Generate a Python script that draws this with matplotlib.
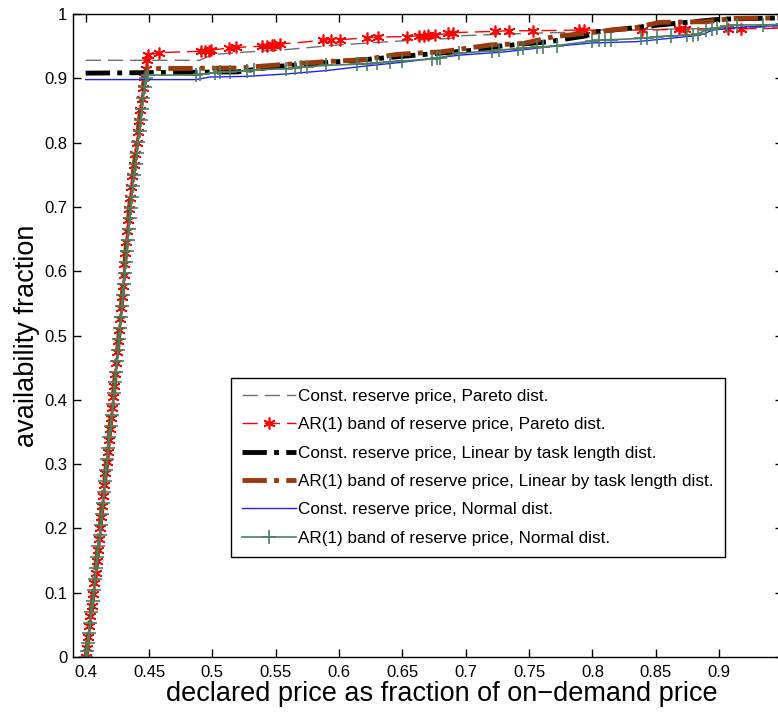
import matplotlib
matplotlib.use("Agg")
import matplotlib.pyplot as plt

plt.rcParams['font.family'] = ['Liberation Sans', 'DejaVu Sans']

# Const. reserve price, Pareto dist.
gray_x = [0.400, 0.490, 0.500, 0.520, 0.560, 0.600, 0.640, 0.665, 0.688, 0.694, 0.720,
          0.750, 0.790, 0.800, 0.880, 0.950]
gray_y = [0.928, 0.928, 0.937, 0.940, 0.945, 0.952, 0.957, 0.960, 0.962, 0.966, 0.968,
          0.970, 0.972, 0.975, 0.977, 0.980]

# AR(1) band of reserve price, Pareto dist.
red_x = [0.4000, 0.4009, 0.4019, 0.4029, 0.4038, 0.4048, 0.4059, 0.4069, 0.4078, 0.4088,
         0.4097, 0.4106, 0.4113, 0.4122, 0.4131, 0.4139, 0.4147, 0.4156, 0.4165, 0.4173,
         0.4182, 0.4190, 0.4199, 0.4207, 0.4216, 0.4225, 0.4233, 0.4241, 0.4249, 0.4258,
         0.4265, 0.4273, 0.4280, 0.4287, 0.4294, 0.4300, 0.4306, 0.4313, 0.4320, 0.4328,
         0.4336, 0.4343, 0.4350, 0.4359, 0.4369, 0.4379, 0.4390, 0.4402, 0.4412, 0.4421,
         0.4431, 0.4441, 0.4451, 0.4460, 0.4478, 0.4487, 0.4492,
         0.458, 0.491, 0.494, 0.497, 0.499, 0.513, 0.519, 0.539, 0.543, 0.547,
         0.549, 0.553, 0.587, 0.594, 0.601, 0.622, 0.631, 0.654, 0.663, 0.667,
         0.670, 0.676, 0.686, 0.690, 0.723, 0.734, 0.753, 0.789, 0.793, 0.839,
         0.868, 0.873, 0.907, 0.917, 0.950]
red_y = [0.000, 0.014, 0.031, 0.048, 0.063, 0.080, 0.098, 0.115, 0.131, 0.149,
         0.166, 0.183, 0.200, 0.218, 0.235, 0.251, 0.268, 0.286, 0.303, 0.319,
         0.337, 0.354, 0.371, 0.388, 0.405, 0.422, 0.440, 0.457, 0.474, 0.491,
         0.508, 0.526, 0.543, 0.560, 0.577, 0.594, 0.611, 0.628, 0.645, 0.662,
         0.680, 0.697, 0.714, 0.731, 0.748, 0.765, 0.782, 0.800, 0.817, 0.834,
         0.851, 0.868, 0.885, 0.902, 0.915, 0.928, 0.936,
         0.940, 0.942, 0.943, 0.943, 0.944, 0.947, 0.948, 0.950, 0.951, 0.952,
         0.952, 0.953, 0.959, 0.960, 0.960, 0.963, 0.964, 0.965, 0.966, 0.966,
         0.967, 0.967, 0.970, 0.971, 0.973, 0.974, 0.974, 0.975, 0.975, 0.975,
         0.976, 0.977, 0.977, 0.977, 0.978]

# Const. reserve price, Linear by task length dist.
black_x = [0.400, 0.520, 0.548, 0.600, 0.620, 0.661, 0.714, 0.727, 0.766, 0.782,
           0.795, 0.802, 0.853, 0.901, 0.950]
black_y = [0.908, 0.910, 0.918, 0.926, 0.929, 0.936, 0.945, 0.950, 0.957, 0.962,
           0.966, 0.972, 0.983, 0.992, 0.994]

# AR(1) band of reserve price, Linear by task length dist.
brown_x = [0.4003, 0.4060, 0.4113, 0.4164, 0.4215, 0.4263, 0.4304, 0.4346, 0.4403,
           0.4463, 0.4490, 0.520, 0.553, 0.590, 0.620, 0.645, 0.660, 0.680, 0.720,
           0.745, 0.770, 0.795, 0.819, 0.830, 0.853, 0.890, 0.910, 0.950]
brown_y = [0.000, 0.100, 0.200, 0.300, 0.400, 0.500, 0.600, 0.700, 0.800,
           0.900, 0.915, 0.916, 0.921, 0.926, 0.929, 0.937, 0.939, 0.941, 0.952,
           0.954, 0.965, 0.970, 0.976, 0.977, 0.987, 0.988, 0.993, 0.994]

# Const. reserve price, Normal dist.
blue_x = [0.400, 0.487, 0.498, 0.527, 0.560, 0.590, 0.616, 0.650, 0.695, 0.730,
          0.766, 0.800, 0.835, 0.860, 0.885, 0.895, 0.922, 0.950]
blue_y = [0.898, 0.898, 0.902, 0.903, 0.907, 0.912, 0.918, 0.925, 0.936, 0.941,
          0.949, 0.955, 0.957, 0.962, 0.967, 0.975, 0.980, 0.982]

# AR(1) band of reserve price, Normal dist.
green_x = [0.4005, 0.4010, 0.4017, 0.4025, 0.4034, 0.4044, 0.4054, 0.4064, 0.4073, 0.4082,
           0.4092, 0.4101, 0.4110, 0.4118, 0.4127, 0.4136, 0.4145, 0.4154, 0.4162, 0.4171,
           0.4180, 0.4188, 0.4197, 0.4206, 0.4215, 0.4223, 0.4232, 0.4241, 0.4249, 0.4258,
           0.4266, 0.4274, 0.4282, 0.4289, 0.4296, 0.4302, 0.4309, 0.4316, 0.4323, 0.4331,
           0.4339, 0.4347, 0.4355, 0.4364, 0.4374, 0.4384, 0.4395, 0.4406, 0.4416, 0.4426,
           0.4436, 0.4446, 0.4456, 0.4466, 0.4478, 0.4490,
           0.487, 0.490, 0.502, 0.506, 0.514, 0.527, 0.533, 0.558, 0.565, 0.570,
           0.575, 0.590, 0.614, 0.622, 0.630, 0.640, 0.650, 0.673, 0.677, 0.680,
           0.695, 0.721, 0.726, 0.741, 0.745, 0.756, 0.761, 0.772, 0.800, 0.805,
           0.810, 0.815, 0.838, 0.843, 0.851, 0.862, 0.875, 0.879, 0.883, 0.890,
           0.894, 0.898, 0.906, 0.914, 0.935, 0.950]
green_y = [0.000, 0.009, 0.022, 0.037, 0.053, 0.070, 0.087, 0.104, 0.121, 0.138,
           0.155, 0.172, 0.189, 0.206, 0.223, 0.240, 0.257, 0.274, 0.291, 0.308,
           0.325, 0.342, 0.359, 0.376, 0.393, 0.410, 0.427, 0.444, 0.461, 0.478,
           0.495, 0.512, 0.529, 0.546, 0.563, 0.580, 0.597, 0.614, 0.631, 0.648,
           0.665, 0.682, 0.699, 0.716, 0.733, 0.750, 0.767, 0.784, 0.801, 0.818,
           0.835, 0.852, 0.869, 0.886, 0.900, 0.905,
           0.905, 0.906, 0.909, 0.910, 0.910, 0.912, 0.913, 0.915, 0.916, 0.917,
           0.918, 0.920, 0.922, 0.923, 0.924, 0.926, 0.927, 0.930, 0.931, 0.932,
           0.939, 0.943, 0.944, 0.946, 0.947, 0.948, 0.949, 0.951, 0.958, 0.959,
           0.960, 0.960, 0.962, 0.963, 0.965, 0.966, 0.967, 0.968, 0.969, 0.975,
           0.977, 0.978, 0.982, 0.983, 0.983, 0.984]

labels = ["Const. reserve price, Pareto dist.",
          "AR(1) band of reserve price, Pareto dist.",
          "Const. reserve price, Linear by task length dist.",
          "AR(1) band of reserve price, Linear by task length dist.",
          "Const. reserve price, Normal dist.",
          "AR(1) band of reserve price, Normal dist."]

xtick_vals = [0.4, 0.45, 0.5, 0.55, 0.6, 0.65, 0.7, 0.75, 0.8, 0.85, 0.9]
xtick_labels = ["0.4", "0.45", "0.5", "0.55", "0.6", "0.65", "0.7", "0.75", "0.8", "0.85", "0.9"]
ytick_vals = [0, 0.1, 0.2, 0.3, 0.4, 0.5, 0.6, 0.7, 0.8, 0.9, 1.0]
ytick_labels = ["0", "0.1", "0.2", "0.3", "0.4", "0.5", "0.6", "0.7", "0.8", "0.9", "1"]

fig = plt.figure(figsize=(7.78, 7.13), dpi=100)
ax = fig.add_axes([73 / 778, 56 / 713, 709.5 / 778, 643 / 713])

dashdot = (0, (5, 1.5, 1, 1.5))
ax.plot(gray_x, gray_y, color='#6e6e6e', lw=1, linestyle=(0, (11, 5)), label=labels[0])
ax.plot(red_x, red_y, color='#ff0000', lw=1, linestyle=(0, (11, 5)),
        marker=(6, 2, 0), markersize=8.5, markeredgewidth=1.2, label=labels[1])
ax.plot(black_x, black_y, color='black', lw=3.5, linestyle=dashdot, label=labels[2])
ax.plot(brown_x, brown_y, color='#993a0c', lw=3.5, linestyle=dashdot, label=labels[3])
ax.plot(blue_x, blue_y, color='#2020ff', lw=1, label=labels[4])
ax.plot(green_x, green_y, color='#4a7f62', lw=1.2, marker='+', markersize=10,
        markeredgewidth=1.2, label=labels[5])

ax.set_xlim(0.39, 0.95)
ax.set_ylim(0, 1)
ax.set_xticks(xtick_vals)
ax.set_xticklabels(xtick_labels)
ax.set_yticks(ytick_vals)
ax.set_yticklabels(ytick_labels)
ax.tick_params(direction='in', length=6, width=1, top=True, right=True, labelsize=12)
ax.tick_params(axis='x', pad=6)
ax.tick_params(axis='y', pad=4)
for s in ax.spines.values():
    s.set_linewidth(1)

ax.set_xlabel("declared price as fraction of on\u2212demand price", fontsize=19.5)
ax.set_ylabel("availability fraction", fontsize=19.5)
ax.xaxis.set_label_coords(0.52, -0.038)
ax.yaxis.set_label_coords(-0.046, 0.5)

leg = ax.legend(loc='upper left', bbox_to_anchor=(0.2227, 0.434), borderaxespad=0,
                fontsize=12.3, handlelength=3.15, handletextpad=0.12, numpoints=1,
                fancybox=False, framealpha=1, edgecolor='black', borderpad=0.65,
                labelspacing=0.78)
leg.get_frame().set_linewidth(1)

fig.savefig("out.png", dpi=100)
